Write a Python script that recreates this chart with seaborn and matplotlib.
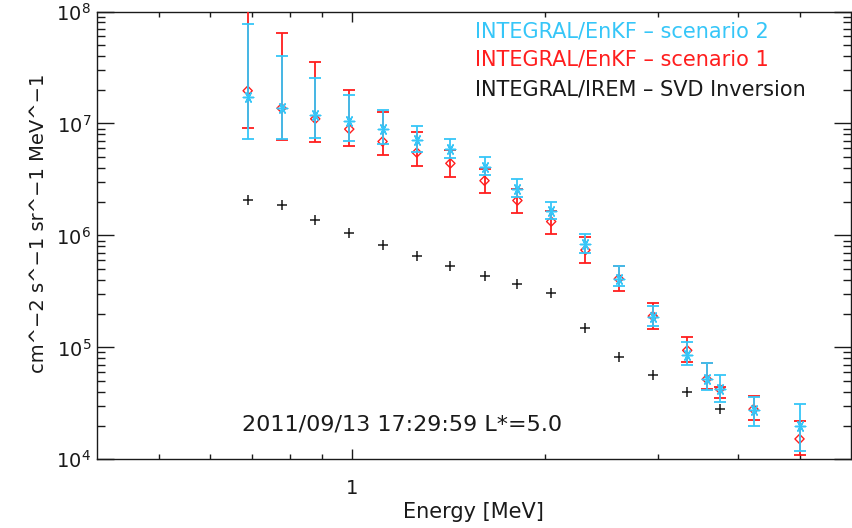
import numpy as np
import pandas as pd
import matplotlib
matplotlib.use("Agg")
import matplotlib.pyplot as plt
from matplotlib.ticker import (FixedLocator, FixedFormatter, NullFormatter,
                               LogLocator, LogFormatterMathtext)
import seaborn as sns

# Energy channels [MeV]
energy = [0.688, 0.777, 0.877, 0.991, 1.117, 1.263, 1.425, 1.611, 1.813,
          2.047, 2.315, 2.610, 2.949, 3.337, 3.580, 3.752, 4.235, 4.995]

# INTEGRAL/EnKF - scenario 2 (flux, lower / upper error limits)
s2_flux = [1.73e7, 1.37e7, 1.19e7, 1.05e7, 8.9e6, 7.1e6, 5.9e6, 4.1e6, 2.62e6,
           1.66e6, 8.4e5, 4.1e5, 1.88e5, 8.6e4, 5.2e4, 4.24e4, 2.77e4, 2.0e4]
s2_low = [7.2e6, 7.2e6, 7.4e6, 7.0e6, 6.6e6, 5.6e6, 4.9e6, 3.5e6, 2.22e6,
          1.40e6, 6.9e5, 3.54e5, 1.56e5, 6.98e4, 4.2e4, 3.28e4, 1.99e4, 1.18e4]
s2_high = [7.7e7, 4.03e7, 2.56e7, 1.79e7, 1.33e7, 9.5e6, 7.2e6, 5.0e6, 3.19e6,
           1.98e6, 1.03e6, 5.3e5, 2.35e5, 1.11e5, 7.2e4, 5.7e4, 3.59e4, 3.13e4]

# INTEGRAL/EnKF - scenario 1
s1_flux = [1.96e7, 1.37e7, 1.10e7, 8.9e6, 6.9e6, 5.5e6, 4.4e6, 3.08e6, 2.05e6,
           1.33e6, 7.4e5, 4.1e5, 1.9e5, 9.4e4, 5.2e4, 4.24e4, 2.8e4, 1.52e4]
s1_low = [9.1e6, 7.1e6, 6.9e6, 6.3e6, 5.2e6, 4.2e6, 3.35e6, 2.38e6, 1.59e6,
          1.03e6, 5.7e5, 3.18e5, 1.46e5, 7.4e4, 4.25e4, 3.5e4, 2.25e4, 1.10e4]
s1_high = [1.5e8, 6.4e7, 3.54e7, 1.99e7, 1.27e7, 8.4e6, 5.8e6, 3.9e6, 2.6e6,
           1.66e6, 9.6e5, 5.3e5, 2.51e5, 1.25e5, 7.3e4, 4.4e4, 3.69e4, 2.19e4]

# INTEGRAL/IREM - SVD inversion
svd_energy = energy[:14] + [energy[15]]
svd_flux = [2.07e6, 1.86e6, 1.36e6, 1.06e6, 8.2e5, 6.6e5, 5.3e5, 4.35e5, 3.7e5,
            3.09e5, 1.50e5, 8.2e4, 5.65e4, 3.98e4, 2.8e4]

series_labels = ["INTEGRAL/EnKF \u2013 scenario 2",
                 "INTEGRAL/EnKF \u2013 scenario 1",
                 "INTEGRAL/IREM \u2013 SVD Inversion"]
stamp = "2011/09/13 17:29:59 L*=5.0"

BLUE = "#36C6F8"
RED = "#FF1E1E"
INK = "#1a1a1a"

sns.set_theme(style="ticks")
plt.rcParams["font.family"] = ["DejaVu Sans"]

fig = plt.figure(figsize=(8.52, 5.28), dpi=100)
ax = fig.add_axes([0.1135, 0.1301, 0.9983 - 0.1135, 0.9782 - 0.1301])
ax.set_xscale("log")
ax.set_yscale("log")

df2 = pd.DataFrame({"E": energy, "flux": s2_flux, "lo": s2_low, "hi": s2_high})
df1 = pd.DataFrame({"E": energy, "flux": s1_flux, "lo": s1_low, "hi": s1_high})
dfs = pd.DataFrame({"E": svd_energy, "flux": svd_flux})

# SVD inversion: plus signs
sns.scatterplot(data=dfs, x="E", y="flux", marker="+", s=60, color=INK,
                linewidth=1.1, ax=ax, zorder=3)

# Scenario 1: error bars and open diamonds
ax.errorbar(df1["E"], df1["flux"],
            yerr=[df1["flux"] - df1["lo"], df1["hi"] - df1["flux"]],
            fmt="none", ecolor=RED, elinewidth=1.3, capsize=4.2, capthick=1.3,
            zorder=4)
sns.scatterplot(data=df1, x="E", y="flux", marker="D", s=22,
                facecolor="none", edgecolor=RED, linewidth=1.0, ax=ax, zorder=5)

# Scenario 2: error bars and asterisks
ax.errorbar(df2["E"], df2["flux"],
            yerr=[df2["flux"] - df2["lo"], df2["hi"] - df2["flux"]],
            fmt="none", ecolor=BLUE, elinewidth=1.3, capsize=4.2, capthick=1.3,
            zorder=6)
sns.scatterplot(data=df2, x="E", y="flux", marker=(6, 2, 90), s=55,
                color=BLUE, edgecolor=BLUE, linewidth=1.1, ax=ax, zorder=7)

ax.set_xlim(0.4, 6.0)
ax.set_ylim(1e4, 1e8)

# Ticks
ax.xaxis.set_major_locator(FixedLocator([1]))
ax.xaxis.set_major_formatter(FixedFormatter(["1"]))
ax.xaxis.set_minor_locator(FixedLocator([0.5, 0.6, 0.7, 0.8, 0.9, 2, 3, 4, 5]))
ax.xaxis.set_minor_formatter(NullFormatter())
ax.yaxis.set_major_locator(LogLocator(base=10, numticks=10))
ax.yaxis.set_major_formatter(LogFormatterMathtext())
ax.yaxis.set_minor_locator(LogLocator(base=10, subs=np.arange(2, 10), numticks=20))
ax.yaxis.set_minor_formatter(NullFormatter())

ax.tick_params(axis="both", which="both", direction="in", top=True, right=True,
               colors=INK, labelcolor=INK, width=1.0)
ax.tick_params(axis="x", which="major", length=7, labelsize=14, pad=14)
ax.tick_params(axis="x", which="minor", length=3.6)
ax.tick_params(axis="y", which="major", length=12, labelsize=14, pad=4)
ax.tick_params(axis="y", which="minor", length=6)

for sp in ax.spines.values():
    sp.set_color(INK)
    sp.set_linewidth(1.0)

ax.set_xlabel("Energy [MeV]", fontsize=15, color=INK, labelpad=3)
ax.set_ylabel("cm^\u22122 s^\u22121 sr^\u22121 MeV^\u22121", fontsize=14,
              color=INK)
ax.yaxis.set_label_coords(-0.0646, 0.527)

# Series labels in the upper right
for txt, col, yf in zip(series_labels, [BLUE, RED, INK], [0.955, 0.892, 0.826]):
    ax.text(0.502, yf, txt, transform=ax.transAxes, color=col, fontsize=15,
            ha="left", va="center")

ax.text(0.675, 2.03e4, stamp, color=INK, fontsize=16, ha="left", va="center")

fig.savefig("out.png", dpi=100)
